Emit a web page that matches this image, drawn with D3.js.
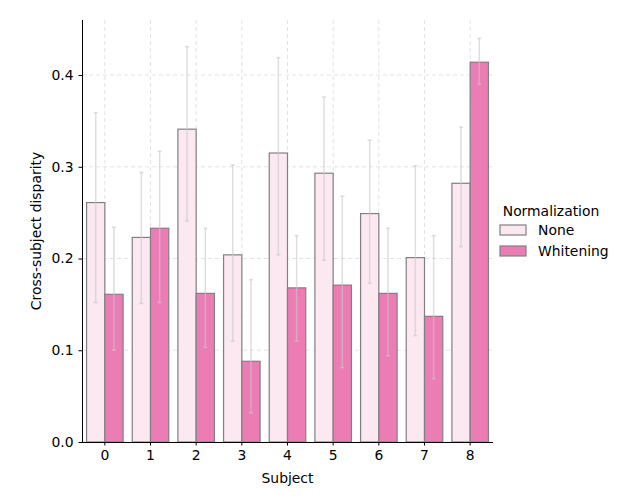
<!DOCTYPE html>
<html>
<head>
<meta charset="utf-8">
<script src="https://cdn.jsdelivr.net/npm/d3@7"></script>
<style>
  body { margin: 0; background: #fff; }
  text { font-family: "DejaVu Sans", sans-serif; }
</style>
</head>
<body>
<div id="chart"></div>
<script>
const subjects = ["0", "1", "2", "3", "4", "5", "6", "7", "8"];
const groups = ["None", "Whitening"];
const noneMean = [0.261, 0.223, 0.341, 0.204, 0.315, 0.293, 0.249, 0.201, 0.282];
const noneLow  = [0.152, 0.151, 0.241, 0.110, 0.204, 0.198, 0.173, 0.116, 0.213];
const noneHigh = [0.359, 0.294, 0.431, 0.302, 0.419, 0.376, 0.329, 0.301, 0.343];
const whiteMean = [0.161, 0.233, 0.162, 0.088, 0.168, 0.171, 0.162, 0.137, 0.414];
const whiteLow  = [0.100, 0.152, 0.103, 0.032, 0.110, 0.081, 0.094, 0.069, 0.390];
const whiteHigh = [0.234, 0.317, 0.233, 0.177, 0.225, 0.268, 0.233, 0.225, 0.440];
const yTicks = [0.0, 0.1, 0.2, 0.3, 0.4];

const colors = { None: "#fce8f1", Whitening: "#eb7db4" };
const fs = 13.9;

const rows = [];
subjects.forEach((s, i) => {
    rows.push({ subject: s, group: "None", mean: noneMean[i], lo: noneLow[i], hi: noneHigh[i] });
    rows.push({ subject: s, group: "Whitening", mean: whiteMean[i], lo: whiteLow[i], hi: whiteHigh[i] });
});

const margin = { top: 20, right: 127, bottom: 58, left: 82 };
const width = 620 - margin.left - margin.right;
const height = 500 - margin.top - margin.bottom;

const svg = d3.select("#chart")
    .append("svg")
    .attr("width", 620)
    .attr("height", 500)
    .append("g")
    .attr("transform", `translate(${margin.left},${margin.top})`);

const x = d3.scaleBand()
    .domain(subjects)
    .range([0, width]);

const inner = d3.scaleBand()
    .domain(groups)
    .range([x.bandwidth() * 0.1, x.bandwidth() * 0.9]);

const y = d3.scaleLinear()
    .domain([0, 0.46])
    .range([height, 0]);

// grid
svg.append("g")
    .selectAll("line")
    .data(yTicks)
    .enter()
    .append("line")
    .attr("x1", 0)
    .attr("x2", width)
    .attr("y1", d => y(d))
    .attr("y2", d => y(d))
    .attr("stroke", "#e3e3e3")
    .attr("stroke-dasharray", "4,3");

svg.append("g")
    .selectAll("line")
    .data(subjects)
    .enter()
    .append("line")
    .attr("x1", d => x(d) + x.bandwidth() / 2)
    .attr("x2", d => x(d) + x.bandwidth() / 2)
    .attr("y1", 0)
    .attr("y2", height)
    .attr("stroke", "#e3e3e3")
    .attr("stroke-dasharray", "4,3");

// bars
svg.append("g")
    .selectAll("rect")
    .data(rows)
    .enter()
    .append("rect")
    .attr("x", d => x(d.subject) + inner(d.group))
    .attr("y", d => y(d.mean))
    .attr("width", inner.bandwidth())
    .attr("height", d => y(0) - y(d.mean))
    .attr("fill", d => colors[d.group])
    .attr("stroke", "#808080")
    .attr("stroke-width", 1.2);

// error bars
const errs = svg.append("g")
    .selectAll("g")
    .data(rows)
    .enter()
    .append("g")
    .attr("stroke", "#c8c8c8")
    .attr("stroke-opacity", 0.6)
    .attr("stroke-width", 1.5);

const cx = d => x(d.subject) + inner(d.group) + inner.bandwidth() / 2;

errs.append("line")
    .attr("x1", cx).attr("x2", cx)
    .attr("y1", d => y(d.lo)).attr("y2", d => y(d.hi));
errs.append("line")
    .attr("x1", d => cx(d) - 2).attr("x2", d => cx(d) + 2)
    .attr("y1", d => y(d.lo)).attr("y2", d => y(d.lo));
errs.append("line")
    .attr("x1", d => cx(d) - 2).attr("x2", d => cx(d) + 2)
    .attr("y1", d => y(d.hi)).attr("y2", d => y(d.hi));

// axes
const xAxis = svg.append("g")
    .attr("transform", `translate(0,${height})`)
    .call(d3.axisBottom(x).tickSize(3.5).tickPadding(5));

const yAxis = svg.append("g")
    .call(d3.axisLeft(y).tickValues(yTicks).tickFormat(d3.format(".1f")).tickSize(3.5).tickPadding(5));

[xAxis, yAxis].forEach(a => {
    a.selectAll("text").attr("font-size", fs).attr("fill", "#000").style("font-family", "DejaVu Sans, sans-serif");
    a.selectAll("line").attr("stroke", "#000");
    a.select(".domain").attr("stroke", "#000").attr("stroke-width", 1);
});
xAxis.select(".domain").attr("d", `M0,0.5H${width}`);
yAxis.select(".domain").attr("d", `M0.5,${height}V0`);

svg.append("text")
    .attr("x", width / 2)
    .attr("y", height + 41)
    .attr("text-anchor", "middle")
    .attr("font-size", fs)
    .text("Subject");

svg.append("text")
    .attr("transform", `translate(${-41},${height / 2}) rotate(-90)`)
    .attr("text-anchor", "middle")
    .attr("font-size", fs)
    .text("Cross-subject disparity");

// legend
const legend = svg.append("g")
    .attr("transform", `translate(${width + 6},${height / 2 - 15})`);

legend.append("text")
    .attr("x", 52)
    .attr("y", 0)
    .attr("text-anchor", "middle")
    .attr("font-size", fs)
    .text("Normalization");

groups.forEach((g, i) => {
    legend.append("rect")
        .attr("x", 1)
        .attr("y", 9 + i * 21)
        .attr("width", 26)
        .attr("height", 10)
        .attr("fill", colors[g])
        .attr("stroke", "#808080")
        .attr("stroke-width", 1.2);
    legend.append("text")
        .attr("x", 39)
        .attr("y", 19 + i * 21)
        .attr("font-size", fs)
        .text(g);
});
</script>
</body>
</html>
